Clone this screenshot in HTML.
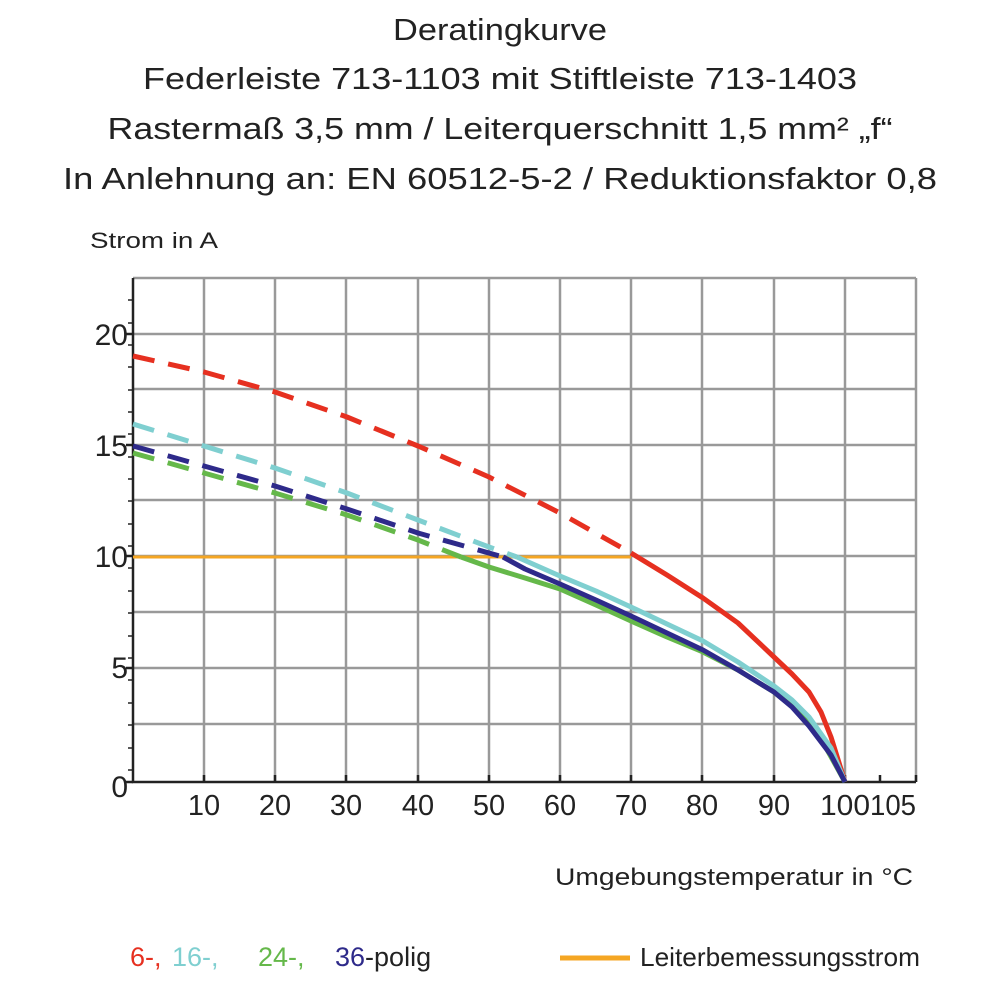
<!DOCTYPE html>
<html><head><meta charset="utf-8"><style>body{margin:0;background:#fff}svg{display:block}</style></head>
<body>
<svg width="1000" height="1000" viewBox="0 0 1000 1000" xmlns="http://www.w3.org/2000/svg" font-family="Liberation Sans, DejaVu Sans, sans-serif" fill="#222">
<g font-size="31" text-anchor="middle">
<text x="500" y="40" textLength="214" lengthAdjust="spacingAndGlyphs">Deratingkurve</text>
<text x="500" y="89" textLength="714" lengthAdjust="spacingAndGlyphs">Federleiste 713-1103 mit Stiftleiste 713-1403</text>
<text x="500" y="139" textLength="785" lengthAdjust="spacingAndGlyphs">Rastermaß 3,5 mm / Leiterquerschnitt 1,5 mm² „f“</text>
<text x="500" y="189" textLength="874" lengthAdjust="spacingAndGlyphs">In Anlehnung an: EN 60512-5-2 / Reduktionsfaktor 0,8</text>
</g>
<text x="90" y="248" font-size="22" textLength="128" lengthAdjust="spacingAndGlyphs">Strom in A</text>
<g stroke="#999" stroke-width="2.5" fill="none">
<path d="M133 278H916M133 334H916M133 389H916M133 445H916M133 500H916M133 556H916M133 612H916M133 668H916M133 724H916"/>
<path d="M204 278V782M275 278V782M346 278V782M418 278V782M489 278V782M560 278V782M631 278V782M702 278V782M774 278V782M845 278V782M916 278V782"/>
</g>
<g stroke="#222" stroke-width="2.5" fill="none">
<path d="M133 278V782H916"/>
<path d="M126 334H133M126 445H133M126 556H133M126 668H133M126 782H133"/>
<path d="M128 300H133M128 323H133M128 345H133M128 367H133M128 390H133M128 412H133M128 434H133M128 457H133M128 479H133M128 501H133M128 524H133M128 546H133M128 568H133M128 591H133M128 613H133M128 636H133M128 658H133M128 680H133M128 703H133M128 725H133M128 748H133M128 770H133" stroke-width="1.5"/>
<path d="M204 782V775M275 782V775M346 782V775M418 782V775M489 782V775M560 782V775M631 782V775M702 782V775M774 782V775M845 782V775M880 782V775M916 782V775"/>
</g>
<g font-size="30" text-anchor="end">
<text x="128" y="345">20</text><text x="128" y="456">15</text><text x="128" y="567">10</text><text x="128" y="678">5</text><text x="128" y="797">0</text>
</g>
<g font-size="29" text-anchor="middle">
<text x="204" y="815">10</text><text x="275" y="815">20</text><text x="346" y="815">30</text><text x="418" y="815">40</text><text x="489" y="815">50</text><text x="560" y="815">60</text><text x="631" y="815">70</text><text x="702" y="815">80</text><text x="774" y="815">90</text><text x="845" y="815" textLength="50" lengthAdjust="spacingAndGlyphs">100</text><text x="893" y="815" textLength="46" lengthAdjust="spacingAndGlyphs">105</text>
</g>
<line x1="133" y1="557" x2="631" y2="557" stroke="#f5a623" stroke-width="3"/>
<g fill="none" stroke-width="5" stroke-linejoin="round" stroke-linecap="butt">
<polyline stroke="#e63020" stroke-dasharray="22,14" points="133,356 204,372 275,392 347,417 418,446 489,477 560,513 631,553"/>
<polyline stroke="#7fcfd0" stroke-dasharray="22,14" points="133,424 204,446 275,468 347,493 418,520 489,547 517,557"/>
<polyline stroke="#65b84a" stroke-dasharray="22,14" points="133,453 204,473 275,493 347,515 418,540 461,557"/>
<polyline stroke="#2e2a8a" stroke-dasharray="22,14" points="133,446 204,466 275,486 347,509 418,533 503,557"/>
<polyline stroke="#e63020" points="631,553 667,575 703,598 738,623 774,657 792,674 809,692 821,712 831,737 845,782"/>
<polyline stroke="#65b84a" points="461,557 489,567 525,578 560,589 596,605 631,621 667,637 703,652 738,670 774,692 799,712 820,737 845,782"/>
<polyline stroke="#7fcfd0" points="517,557 560,576 596,591 631,607 667,624 703,641 738,662 774,686 792,700 809,717 831,748 845,782"/>
<polyline stroke="#2e2a8a" points="503,557 525,569 560,584 596,600 631,616 667,633 703,650 738,670 774,692 792,707 809,726 831,755 845,782"/>
</g>
<text x="913" y="885" font-size="24" text-anchor="end" textLength="358" lengthAdjust="spacingAndGlyphs">Umgebungstemperatur in °C</text>
<g font-size="27">
<text x="130" y="966" fill="#e63020">6-,</text>
<text x="172" y="966" fill="#7fcfd0">16-,</text>
<text x="258" y="966" fill="#65b84a">24-,</text>
<text x="335" y="966"><tspan fill="#2e2a8a">36</tspan>-polig</text>
</g>
<line x1="560" y1="958" x2="630" y2="958" stroke="#f5a623" stroke-width="5"/>
<text x="640" y="966" font-size="26" textLength="280" lengthAdjust="spacingAndGlyphs">Leiterbemessungsstrom</text>
</svg>
</body></html>
